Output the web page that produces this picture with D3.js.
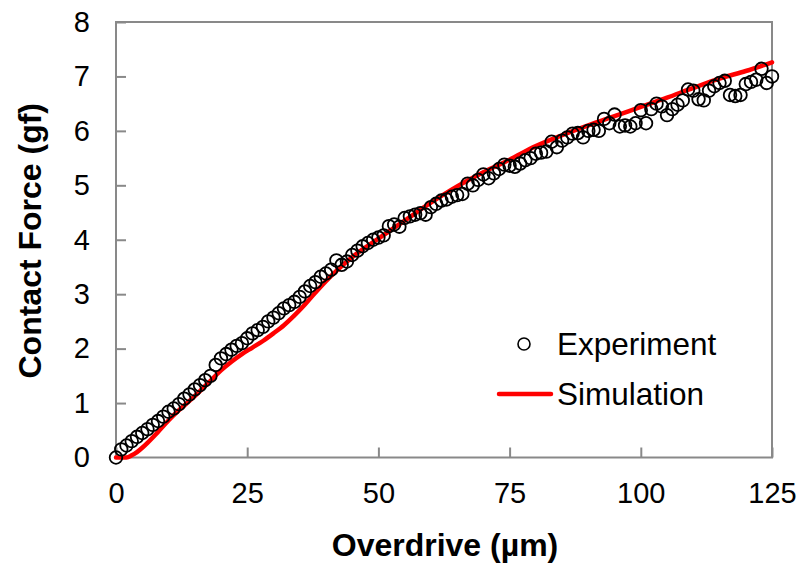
<!DOCTYPE html>
<html>
<head>
<meta charset="utf-8">
<script src="https://cdn.jsdelivr.net/npm/d3@7/dist/d3.min.js"></script>
<style>
  html, body { margin: 0; padding: 0; background: #fff; }
  svg { display: block; font-family: "Liberation Sans", Arial, sans-serif; }
</style>
</head>
<body>
<svg id="chart" width="801" height="563"></svg>
<script>
// Measured contact force (gf) at each overdrive step of 1 µm, 0..125
const expOverdrive = d3.range(0, 126);
const expForce = [
  0.00, 0.15, 0.22, 0.30, 0.38, 0.45, 0.52, 0.60, 0.67, 0.75,
  0.84, 0.90, 0.98, 1.08, 1.16, 1.25, 1.33, 1.42, 1.50, 1.70,
  1.82, 1.90, 1.98, 2.05, 2.10, 2.19, 2.28, 2.34, 2.40, 2.50,
  2.57, 2.65, 2.74, 2.80, 2.86, 2.95, 3.05, 3.15, 3.22, 3.32,
  3.38, 3.45, 3.62, 3.54, 3.60, 3.72, 3.80, 3.88, 3.94, 4.00,
  4.04, 4.08, 4.25, 4.28, 4.24, 4.40, 4.43, 4.46, 4.49, 4.46,
  4.60, 4.66, 4.72, 4.74, 4.79, 4.82, 4.84, 5.03, 5.00, 5.10,
  5.20, 5.13, 5.22, 5.30, 5.38, 5.36, 5.34, 5.40, 5.46, 5.50,
  5.58, 5.60, 5.62, 5.80, 5.70, 5.82, 5.88, 5.95, 5.96, 5.88,
  6.00, 6.02, 6.00, 6.22, 6.14, 6.30, 6.08, 6.10, 6.08, 6.14,
  6.38, 6.14, 6.40, 6.50, 6.45, 6.29, 6.40, 6.48, 6.56, 6.76,
  6.74, 6.58, 6.56, 6.74, 6.82, 6.88, 6.92, 6.66, 6.64, 6.66,
  6.86, 6.90, 6.94, 7.14, 6.88, 7.00
];

// Simulated force curve
const simOverdrive = [0, 2, 3, 4, 5, 6, 8, 10, 12, 14, 16, 18, 20, 22, 24, 26, 28, 30, 32, 34, 36, 38, 40, 42, 45, 50, 55, 60, 65, 70, 75, 80, 85, 90, 95, 100, 105, 110, 115, 120, 125];
const simForce = [0, 0.00, 0.04, 0.10, 0.18, 0.27, 0.47, 0.68, 0.87, 1.04, 1.22, 1.41, 1.60, 1.76, 1.90, 2.02, 2.14, 2.28, 2.43, 2.61, 2.81, 3.03, 3.24, 3.43, 3.68, 4.02, 4.35, 4.68, 4.98, 5.24, 5.47, 5.72, 5.92, 6.10, 6.27, 6.44, 6.61, 6.79, 6.96, 7.10, 7.26];

const xTicks = [0, 25, 50, 75, 100, 125];
const yTicks = [0, 1, 2, 3, 4, 5, 6, 7, 8];
const seriesNames = ["Experiment", "Simulation"];

const svg = d3.select("#chart");
const plot = { left: 116, right: 772, top: 22, bottom: 457.5 };
const frameColor = "#898989";

const x = d3.scaleLinear().domain([0, 125]).range([plot.left, plot.right]);
const y = d3.scaleLinear().domain([0, 8]).range([plot.bottom, plot.top]);

// Plot frame
svg.append("rect")
  .attr("x", plot.left).attr("y", plot.top)
  .attr("width", plot.right - plot.left).attr("height", plot.bottom - plot.top)
  .attr("fill", "none").attr("stroke", frameColor).attr("stroke-width", 2);

// Axes with inward ticks
const xAxis = svg.append("g")
  .attr("transform", `translate(0,${plot.bottom})`)
  .call(d3.axisBottom(x).tickValues(xTicks).tickSizeInner(-10).tickSizeOuter(0).tickPadding(25));
const yAxis = svg.append("g")
  .attr("transform", `translate(${plot.left},0)`)
  .call(d3.axisLeft(y).tickValues(yTicks).tickSizeInner(-10).tickSizeOuter(0).tickPadding(26));

[xAxis, yAxis].forEach(g => {
  g.select(".domain").remove();
  g.selectAll(".tick line").attr("stroke", frameColor).attr("stroke-width", 2);
  g.selectAll(".tick text")
    .attr("fill", "#000")
    .style("font-family", "'Liberation Sans', Arial, sans-serif")
    .style("font-size", "29px");
});

// Axis titles
svg.append("text")
  .attr("x", (plot.left + plot.right) / 2 + 1).attr("y", 556)
  .attr("text-anchor", "middle")
  .style("font-size", "32px").style("font-weight", "bold")
  .text("Overdrive (µm)");
svg.append("text")
  .attr("transform", `translate(41,${(plot.top + plot.bottom) / 2 + 1}) rotate(-90)`)
  .attr("text-anchor", "middle")
  .style("font-size", "32px").style("font-weight", "bold")
  .text("Contact Force (gf)");

// Simulation curve
const simData = simOverdrive.map((d, i) => [d, simForce[i]]);
const line = d3.line()
  .x(d => x(d[0])).y(d => y(d[1]))
  .curve(d3.curveMonotoneX);
svg.append("path")
  .datum(simData)
  .attr("d", line)
  .attr("fill", "none")
  .attr("stroke", "#ff0000")
  .attr("stroke-width", 4.5)
  .attr("stroke-linejoin", "round")
  .attr("stroke-linecap", "round");

// Experimental points
const expData = expOverdrive.map((d, i) => [d, expForce[i]]);
svg.append("g")
  .selectAll("circle")
  .data(expData)
  .join("circle")
  .attr("cx", d => x(d[0]))
  .attr("cy", d => y(d[1]))
  .attr("r", 6.3)
  .attr("fill", "none")
  .attr("stroke", "#000")
  .attr("stroke-width", 1.8);

// Legend
const legend = svg.append("g");
legend.append("circle")
  .attr("cx", 524).attr("cy", 344).attr("r", 6)
  .attr("fill", "none").attr("stroke", "#000").attr("stroke-width", 1.6);
legend.append("text")
  .attr("x", 557).attr("y", 355)
  .style("font-size", "31.5px")
  .text(seriesNames[0]);
legend.append("line")
  .attr("x1", 499).attr("x2", 551).attr("y1", 394).attr("y2", 394)
  .attr("stroke", "#ff0000").attr("stroke-width", 4.5).attr("stroke-linecap", "round");
legend.append("text")
  .attr("x", 557).attr("y", 405)
  .style("font-size", "31.5px")
  .text(seriesNames[1]);
</script>
</body>
</html>
